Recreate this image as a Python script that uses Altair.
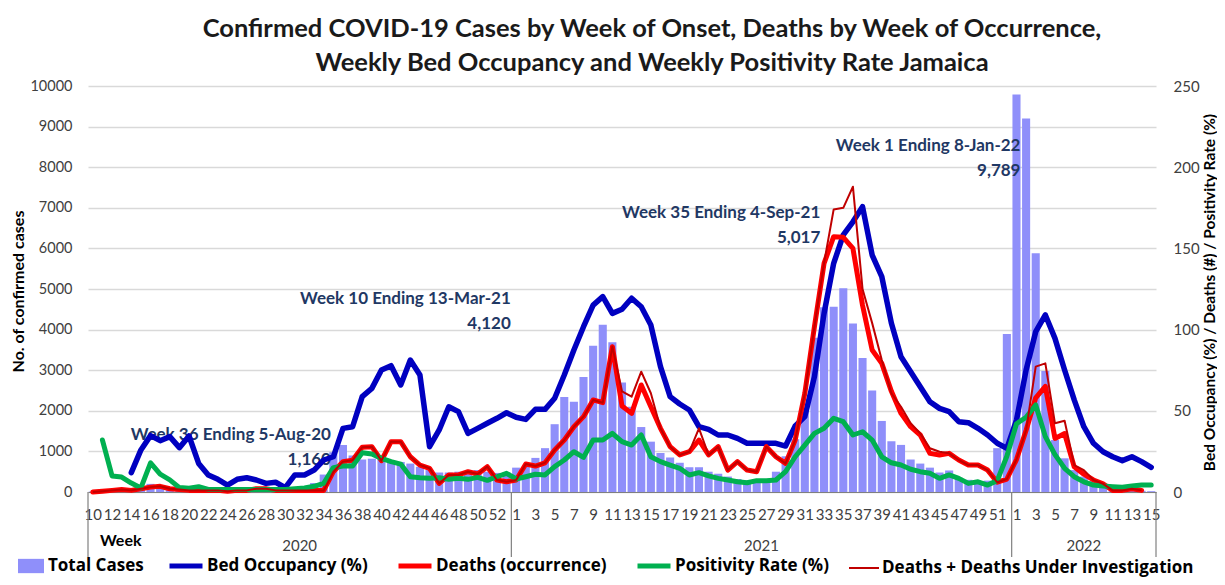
import json
import altair as alt
import pandas as pd

# ---------------- data ----------------
years = ["2020", "2021", "2022"]
weeks_2020 = list(range(10, 54))
weeks_2021 = list(range(1, 53))
weeks_2022 = list(range(1, 16))

cases_2020 = [10, 20, 40, 60, 60, 80, 200, 100, 50, 40, 30, 20, 20, 20, 20, 20, 20, 30, 30, 30,
              40, 50, 80, 220, 430, 980, 1160, 900, 800, 820, 800, 780, 740, 700, 620, 540, 480, 480, 500, 520,
              540, 500, 470, 480]
cases_2021 = [600, 620, 840, 1080, 1670, 2340, 2220, 2830, 3600, 4120,
              3690, 2700, 2100, 1600, 1240, 960, 850, 720, 610, 610,
              500, 450, 380, 320, 280, 260, 300, 500, 880, 1300,
              2050, 3800, 4550, 4560, 5017, 4150, 3300, 2500, 1750, 1250,
              1160, 800, 700, 600, 480, 530, 350, 300, 260, 280,
              1080, 3890]
cases_2022 = [9789, 9200, 5880, 2980, 1280, 830, 540, 380, 270, 150, 100, 60, 40, 30, 20]

bed_2020 = [None, None, None, None, 11.9, 25.9, 34.7, 31.6, 34.1, 27.3,
            34.5, 17.6, 10.5, 7.8, 4.3, 7.8, 8.8, 7.4, 5.3, 6.0,
            2.7, 10.5, 10.5, 13.5, 19.7, 21.7, 39.2, 40.2, 58.7, 63.8,
            75.1, 77.8, 65.9, 81.3, 72.0, 27.9, 38.2, 52.5, 49.5, 36.1,
            39.2, 42.3, 45.4, 48.8]
bed_2021 = [46, 44.7, 50.9, 50.9, 57.7, 72, 87.4, 101.8, 115.1, 120.3,
            110, 112.5, 119.3, 114.1, 102.8, 77.2, 58.7, 54.2, 50.5, 40.2,
            38.6, 35.1, 35.1, 33, 30, 30, 30, 30, 28.3, 40.6,
            46.4, 71, 110, 140.8, 158.3, 166.4, 175.7, 145.9, 132.6, 103.9,
            83.3, 74.1, 64.8, 55.6, 51.5, 49.5, 43.3, 42.7, 39.2, 35.1,
            30, 26.9]
bed_2022 = [44.3, 75.1, 98.7, 109, 94.6, 75.1, 56.7, 40.2, 30, 24.8, 21.7, 19.3, 21.7, 18.7, 15.2]

deaths_2020 = [0, 0.5, 1, 1.5, 1, 2, 3, 3.5, 2, 1.5,
               1, 1, 1, 1, 0.5, 1, 1, 2, 2, 1,
               1, 1, 1, 1, 1, 12.5, 18.7, 19.5, 27.5, 27.9,
               19.3, 31, 31, 21.7, 16.6, 14.6, 5.3, 10.5, 10.5, 12.5,
               11.1, 15.6, 7.4, 6.3]
deaths_2021 = [7.4, 17.2, 16, 18, 25.9, 32, 40.2, 46.4, 56.7, 55,
               89.5, 53, 48.4, 65.9, 52.5, 39.2, 27.9, 22.8, 24.8, 32,
               22.8, 27.9, 13.5, 18.7, 13.5, 12.5, 27.9, 21.7, 17.6, 32,
               60.8, 101.8, 140.8, 157.2, 156.8, 150, 115, 87.4, 79.2, 62,
               48.4, 40.2, 35.1, 23.8, 22.8, 23.8, 19.7, 16.6, 16.6, 13.5,
               6, 8]
deaths_2022 = [20, 38, 58, 65, 33, 36, 15.5, 11, 7.4, 5, 1, 1, 2, 1, None]

dui_2020 = [0, 0.5, 1, 1.5, 1, 2, 3, 3.5, 2, 1.5,
            1, 1, 1, 1, 0.5, 1, 1, 2, 2, 1,
            1, 1, 1, 1, 1, 12.5, 18.7, 19.5, 27.5, 27.9,
            19.3, 31, 31, 21.7, 16.6, 14.6, 5.3, 10.5, 10.5, 12.5,
            11.1, 15.6, 7.4, 6.3]
dui_2021 = [7.4, 17.2, 16, 18, 25.9, 32, 40.2, 46.4, 56.7, 55,
            89.5, 62, 58.7, 74.1, 60.8, 39.2, 27.9, 22.8, 24.8, 39.2,
            22.8, 27.9, 13.5, 18.7, 13.5, 12.5, 27.9, 21.7, 17.6, 32,
            60.8, 101.8, 141, 174, 175, 188, 125, 104, 81.3, 60.8,
            52.5, 42.3, 36.1, 26.9, 24.8, 23.8, 19.7, 16.6, 16.6, 13.5,
            6, 8]
dui_2022 = [20, 38, 77.2, 79.2, 42.3, 43.9, 16.6, 13.5, 7.4, 5, 1, 1, 2, 1, None]

pos_2020 = [None, 32, 9.9, 9.2, 5.5, 2.5, 18, 11, 7.5, 2.7,
            2.3, 3.3, 1.6, 1.5, 1.5, 1.5, 1.5, 1.5, 1.5, 1.5,
            1.5, 2, 2.5, 3.5, 5.3, 15, 16, 16, 24.2, 23.4,
            20.7, 18.7, 17.2, 9.4, 8.8, 8.4, 8.8, 7.8, 8.4, 7.8,
            9, 7.2, 9.4, 11.5]
pos_2021 = [8, 9.4, 10.9, 10.5, 15.6, 19.7, 24.8, 21.3, 32, 32,
            36.1, 31, 28.9, 35.1, 21.7, 18.7, 16.6, 14.6, 10.5, 11.9,
            9.9, 8.4, 7.4, 6.3, 5.7, 7, 7, 7.4, 12.5, 21.7,
            28.9, 36.1, 39.2, 45.4, 43.3, 35.1, 37.1, 32, 21.7, 18,
            16.6, 14, 12.5, 11.5, 8.4, 10.5, 8.4, 5.3, 6.3, 4.3,
            7, 22]
pos_2022 = [42, 46, 53.6, 34.1, 23, 14.6, 9.4, 6.3, 4.3, 3.7, 3.3, 3, 3.7, 4.3, 4.3]

anno_year = ["2020", "2021", "2021", "2022"]
anno_week = [36, 10, 35, 1]
anno_text = [["Week 36 Ending 5-Aug-20", "1,160"],
             ["Week 10 Ending 13-Mar-21", "4,120"],
             ["Week 35 Ending 4-Sep-21", "5,017"],
             ["Week 1 Ending 8-Jan-22", "9,789"]]

S_CASES = "Total Cases"
S_BED = "Bed Occupancy (%)"
S_DEATHS = "Deaths (occurrence)"
S_POS = "Positivity Rate (%)"
S_DUI = "Deaths + Deaths Under Investigation"

# ---------------- styles ----------------
FONT = "Lato"
LFONT = "Open Sans"
C_BAR = "#8F8FFA"
C_BED = "#0000C0"
C_DEATHS = "#FF0000"
C_POS = "#00B050"
C_DUI = "#C00000"
C_ANNO = "#1F3864"
C_TICK = "#404040"
anno_dx = [-12, -92, -23, 4]
anno_dy = [-10, -26, -75, 51]

# ---------------- table ----------------
week_lists = [weeks_2020, weeks_2021, weeks_2022]
starts = []
s = 0
for wl in week_lists:
    starts.append(s)
    s += len(wl)
N = s

rows = []
week_labels = []
label_idx = []
series = [(cases_2020, cases_2021, cases_2022), (bed_2020, bed_2021, bed_2022),
          (deaths_2020, deaths_2021, deaths_2022), (pos_2020, pos_2021, pos_2022),
          (dui_2020, dui_2021, dui_2022)]
for y, wl in enumerate(week_lists):
    for j, w in enumerate(wl):
        i = starts[y] + j
        week_labels.append(str(w))
        if j % 2 == 0:
            label_idx.append(i + 0.5)
        rows.append({
            "idx": i, "year": years[y], "week": w,
            "cases": series[0][y][j], "bed": series[1][y][j],
            "deaths": series[2][y][j], "pos": series[3][y][j], "dui": series[4][y][j],
        })
df = pd.DataFrame(rows)

xscale = alt.Scale(domain=[0, N], nice=False, zero=False, padding=0)
x_axis = alt.Axis(
    values=label_idx, labelExpr=json.dumps(week_labels) + "[floor(datum.value)]",
    title=None, grid=False, ticks=False, domainColor="#808080", domainWidth=1.2,
    labelFont=FONT, labelFontSize=15, labelColor=C_TICK, labelPadding=15,
    labelOverlap=False, labelFlush=False)
lscale = alt.Scale(domain=[0, 10000], nice=False)
left_axis = alt.Axis(
    values=list(range(0, 10001, 1000)), format="d", title="No. of confirmed cases",
    grid=True, gridColor="#D9D9D9", gridWidth=1.3, domain=False, ticks=False,
    labelFont=FONT, labelFontSize=14.5, labelColor=C_TICK, labelPadding=16,
    titleFont=FONT, titleFontSize=16, titleFontWeight="bold", titleColor="black",
    titleX=-70, titleY=205, titleAngle=270, titleBaseline="middle", titleAlign="center")

base = alt.Chart(df).transform_calculate(
    xc="datum.idx + 0.5", x0="datum.idx + 0.08", x1="datum.idx + 0.92"
)

legend_common = dict(orient="none", direction="horizontal", labelFont=LFONT, labelFontSize=17,
                     labelFontWeight="bold", labelColor="black", labelLimit=600, title=None)

bars = base.transform_calculate(s_cases=f"'{S_CASES}'").mark_bar().encode(
    x=alt.X("x0:Q", scale=xscale, axis=x_axis),
    x2="x1:Q",
    y=alt.Y("cases:Q", scale=lscale, axis=left_axis),
    y2=alt.datum(0),
    fill=alt.Fill("s_cases:N", scale=alt.Scale(domain=[S_CASES], range=[C_BAR]),
                  legend=alt.Legend(legendX=-70, legendY=467, symbolType="M-1,-0.55H1V0.55H-1Z",
                                    symbolSize=676, symbolStrokeWidth=0, labelOffset=4,
                                    **legend_common)),
)

right_axis = alt.Axis(orient="right", values=list(range(0, 251, 50)),
                      title="Bed Occupancy (%) / Deaths (#) / Positivity Rate (%)",
                      grid=False, domain=False, ticks=False,
                      labelFont=FONT, labelFontSize=15, labelColor=C_TICK, labelPadding=17,
                      titleFont=FONT, titleFontSize=15.5, titleFontWeight="bold", titleColor="black",
                      titleX=53, titleY=206, titleAngle=270, titleBaseline="middle", titleAlign="center")
rscale = alt.Scale(domain=[0, 250], nice=False)

line_color_scale = alt.Scale(domain=[S_BED, S_DEATHS, S_POS], range=[C_BED, C_DEATHS, C_POS])
line_legend = alt.Legend(legendX=79, legendY=461, symbolType="stroke", symbolSize=1089,
                         symbolStrokeWidth=5, labelOffset=2, columnPadding=20, **legend_common)


def line_layer(field, name, width):
    return base.transform_calculate(s_line=f"'{name}'").mark_line(
        strokeWidth=width, strokeJoin="round", strokeCap="round").encode(
        x=alt.X("xc:Q", scale=xscale, axis=x_axis),
        y=alt.Y(f"{field}:Q", scale=rscale, axis=right_axis),
        color=alt.Color("s_line:N", scale=line_color_scale, legend=line_legend),
    )


bed_line = line_layer("bed", S_BED, 5.5)
deaths_line = line_layer("deaths", S_DEATHS, 5)
pos_line = line_layer("pos", S_POS, 5)
dui_line = base.transform_calculate(s_dui=f"'{S_DUI}'").mark_line(strokeWidth=2, strokeJoin="round").encode(
    x=alt.X("xc:Q", scale=xscale, axis=x_axis),
    y=alt.Y("dui:Q", scale=rscale, axis=right_axis),
    stroke=alt.Stroke("s_dui:N", scale=alt.Scale(domain=[S_DUI], range=[C_DUI]),
                      legend=alt.Legend(legendX=760, legendY=466, symbolType="stroke", symbolSize=900,
                                        symbolStrokeWidth=2, labelOffset=2, **legend_common)),
)

lines = alt.layer(bed_line, deaths_line, pos_line, dui_line)

# annotations
anno_layers = []
for k in range(len(anno_text)):
    y = years.index(anno_year[k])
    j = week_lists[y].index(anno_week[k])
    i = starts[y] + j
    adf = pd.DataFrame([{"xc": i + 0.5, "val": series[0][y][j], "txt": anno_text[k]}])
    anno_layers.append(
        alt.Chart(adf).mark_text(align="right", baseline="middle", font=FONT, fontSize=17,
                                 fontWeight="bold", color=C_ANNO, lineHeight=25,
                                 dx=anno_dx[k], dy=anno_dy[k]).encode(
            x=alt.X("xc:Q", scale=xscale, axis=x_axis),
            y=alt.Y("val:Q", scale=lscale, axis=left_axis),
            text="txt",
        )
    )

# year group separators and labels
bounds = pd.DataFrame({"b": starts + [N]})
seps = alt.Chart(bounds).mark_rule(color="#808080", strokeWidth=1.2).encode(
    x=alt.X("b:Q", scale=xscale, axis=x_axis),
    y=alt.value(406), y2=alt.value(471),
)
ydf = pd.DataFrame({"mid": [starts[k] + len(week_lists[k]) / 2 for k in range(3)], "year": years})
year_text = alt.Chart(ydf).mark_text(font=FONT, fontSize=15, color=C_TICK, baseline="middle").encode(
    x=alt.X("mid:Q", scale=xscale, axis=x_axis),
    y=alt.value(460),
    text="year",
)
week_text = alt.Chart(pd.DataFrame({"t": ["Week"]})).mark_text(
    font=FONT, fontSize=16, fontWeight="bold", color="black", align="left", baseline="middle").encode(
    x=alt.value(12), y=alt.value(455), text="t")

left_part = alt.layer(bars, *anno_layers)
chart = alt.layer(left_part, lines, seps, year_text, week_text).resolve_scale(
    y="independent"
).properties(
    width=1068, height=406,
    autosize=alt.AutoSizeParams(type="none"),
    padding={"left": 80, "top": 78, "right": 61, "bottom": 85},
    title=alt.TitleParams(
        ["Confirmed COVID-19 Cases by Week of Onset, Deaths by Week of Occurrence,",
         "Weekly Bed Occupancy and Weekly Positivity Rate Jamaica"],
        font=FONT, fontSize=25.5, fontWeight="bold", color="#1A1A1A",
        anchor="middle", dx=30, lineHeight=34, offset=2),
).configure_view(stroke=None)

chart.save("out.html", embed_options={"renderer": "svg", "actions": False})
